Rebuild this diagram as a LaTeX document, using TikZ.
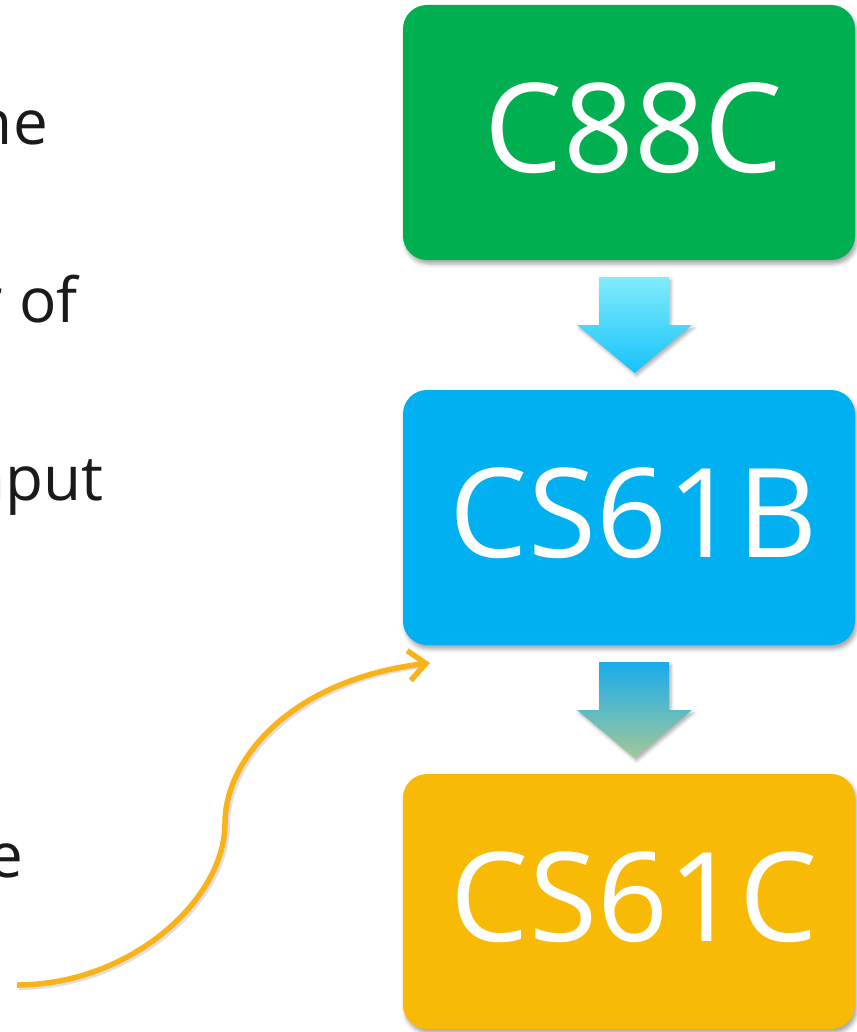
\documentclass[tikz,border=0pt]{standalone}
\usepackage{fontspec}
\setmainfont{Open Sans}
\usetikzlibrary{arrows.meta,shadows.blur}
\definecolor{cgreen}{HTML}{00AF50}
\definecolor{cblue}{HTML}{00B0F0}
\definecolor{corange}{HTML}{F9BA06}
\definecolor{ccurve}{HTML}{F8B31B}
\definecolor{aonetop}{HTML}{80ECFD}
\definecolor{aonebot}{HTML}{17C2FA}
\definecolor{atwotop}{HTML}{18ACEE}
\definecolor{atwobot}{HTML}{A2C897}
\definecolor{ctext}{HTML}{1A1A1A}
\begin{document}
\begin{tikzpicture}[x=1pt,y=-1pt,
  coursebox/.style={rounded corners=24pt, minimum width=452pt, minimum height=255pt,
    inner sep=0pt, draw=none,
    blur shadow={shadow xshift=2pt,shadow yshift=-4pt,shadow blur radius=4pt,shadow opacity=35}},
  courselabel/.style={inner sep=0pt, text=white, font=\fontsize{124}{130}\selectfont},
  frag/.style={anchor=base east, inner sep=0pt, font=\fontsize{62}{70}\selectfont, text=ctext},
  blockarrow/.style={draw=none,
    blur shadow={shadow xshift=2pt,shadow yshift=-3pt,shadow blur radius=3pt,shadow opacity=30}},
  curvearrow/.style={draw=ccurve, line width=5.5pt, -{Straight Barb[length=17pt,width=30pt]}},
  curveshadow/.style={draw=black, opacity=0.12, line width=6pt}
]
\useasboundingbox (0,0) rectangle (856,1032);

% left text fragments (cut off at the left edge)
\node[frag] (t1) at (48,145) {he};
\node[frag] (t2) at (78,322) {r of};
\node[frag] (t3) at (104,500) {nput};
\node[frag] (t4) at (23,877) {e};

% course boxes
\node[coursebox, fill=cgreen] (c88c) at (629,132.5) {};
\node[courselabel] (c88clabel) at ([xshift=5pt,yshift=4pt]c88c.center) {C88C};
\node[coursebox, fill=cblue] (cs61b) at (629,517.5) {};
\node[courselabel] (cs61blabel) at ([xshift=5pt,yshift=4pt]cs61b.center) {CS61B};
\node[coursebox, fill=corange] (cs61c) at (629,901.5) {};
\node[courselabel] (cs61clabel) at ([xshift=5pt,yshift=4pt]cs61c.center) {CS61C};

% block arrows
\path[blockarrow, top color=aonetop, bottom color=aonebot]
  (599,277) -- (669,277) -- (669,325) -- (692,325) -- (634.5,373) -- (577,325) -- (599,325) -- cycle;
\path[blockarrow, top color=atwotop, bottom color=atwobot]
  (599,662) -- (669,662) -- (669,710) -- (692,710) -- (634.5,758) -- (577,710) -- (599,710) -- cycle;

% curved arrow
\coordinate (cstart) at (17,985);
\coordinate (cmid) at (225,823);
\coordinate (cend) at (430,663);
\draw[curveshadow] ([shift={(2,2)}]cstart) .. controls (132,987) and (227,902) .. ([shift={(2,2)}]cmid)
  .. controls (227,762) and (292,682) .. ([shift={(-6,2)}]cend);
\draw[curvearrow] (cstart) .. controls (130,985) and (225,900) .. (cmid)
  .. controls (225,760) and (290,680) .. (cend);
\end{tikzpicture}
\end{document}
